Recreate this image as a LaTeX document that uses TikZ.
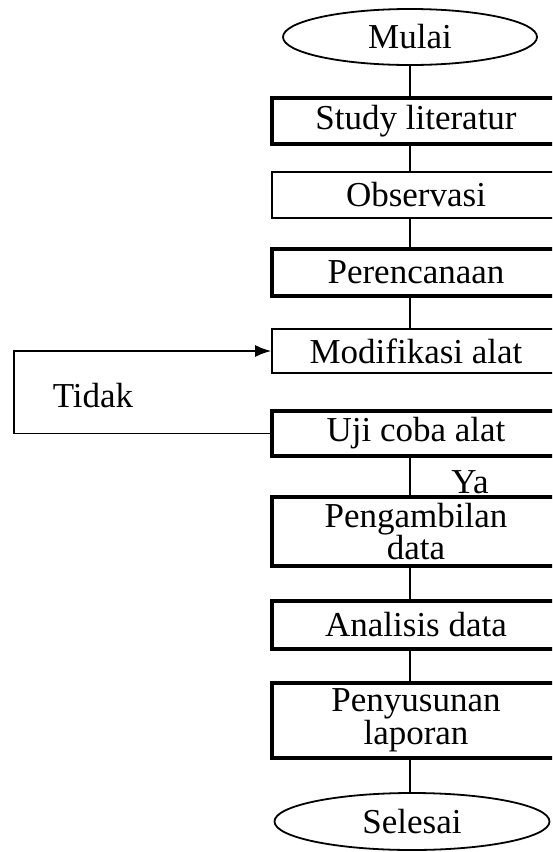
\documentclass[tikz,border=0pt]{standalone}
\usepackage{fontspec}
\setmainfont{Liberation Serif}
\usetikzlibrary{shapes.geometric, arrows.meta}

\begin{document}
\begin{tikzpicture}[x=1pt, y=-1pt,
    every node/.style={font=\fontsize{35}{28}\selectfont, inner sep=0pt},
    terminal/.style={ellipse, draw, line width=1.8pt},
    tebal/.style={rectangle, draw, line width=3.6pt, minimum width=288pt, align=center},
    tipis/.style={rectangle, draw, line width=1.6pt, minimum width=288pt, align=center},
    garis/.style={line width=1.8pt}]
\useasboundingbox (0,0) rectangle (552,852);
\clip (0,0) rectangle (552,852);

\node[terminal, minimum width=254pt, minimum height=56pt] (mulai) at (410,37) {Mulai};
\node[tebal, minimum height=46pt] (study) at (416,121) {Study literatur};
\node[tipis, minimum height=46pt] (observasi) at (416,195) {Observasi};
\node[tebal, minimum height=47pt] (perencanaan) at (416,272.5) {Perencanaan};
\node[tipis, minimum height=44pt] (modifikasi) at (416,351) {Modifikasi alat};
\node[tebal, minimum height=45pt] (ujicoba) at (416,433.5) {Uji coba alat};
\node[tebal, minimum height=69pt] (pengambilan) at (416,531.5) {Pengambilan\\data};
\node[tebal, minimum height=48pt] (analisis) at (416,625) {Analisis data};
\node[tebal, minimum height=75pt] (penyusunan) at (416,720.5) {Penyusunan\\laporan};
\node[terminal, minimum width=275pt, minimum height=57pt] (selesai) at (412,821.5) {Selesai};

\node (tidak) at (93,396) {Tidak};
\node (ya) at (470,482) {Ya};
\coordinate (balik) at (14,390);

% alur utama
\draw[garis] (mulai.south) -- (mulai.south |- study.north);
\draw[garis] (mulai.south |- study.south) -- (mulai.south |- observasi.north);
\draw[garis] (mulai.south |- observasi.south) -- (mulai.south |- perencanaan.north);
\draw[garis] (mulai.south |- perencanaan.south) -- (mulai.south |- modifikasi.north);
\draw[garis] (mulai.south |- ujicoba.south) -- (mulai.south |- pengambilan.north);
\draw[garis] (mulai.south |- pengambilan.south) -- (mulai.south |- analisis.north);
\draw[garis] (mulai.south |- analisis.south) -- (mulai.south |- penyusunan.north);
\draw[garis] (mulai.south |- penyusunan.south) -- (mulai.south |- selesai.north);

% umpan balik
\draw[garis, -{Latex[length=16pt, width=12pt]}] (ujicoba.west) -| (balik) |- (modifikasi.west);

\end{tikzpicture}
\end{document}
